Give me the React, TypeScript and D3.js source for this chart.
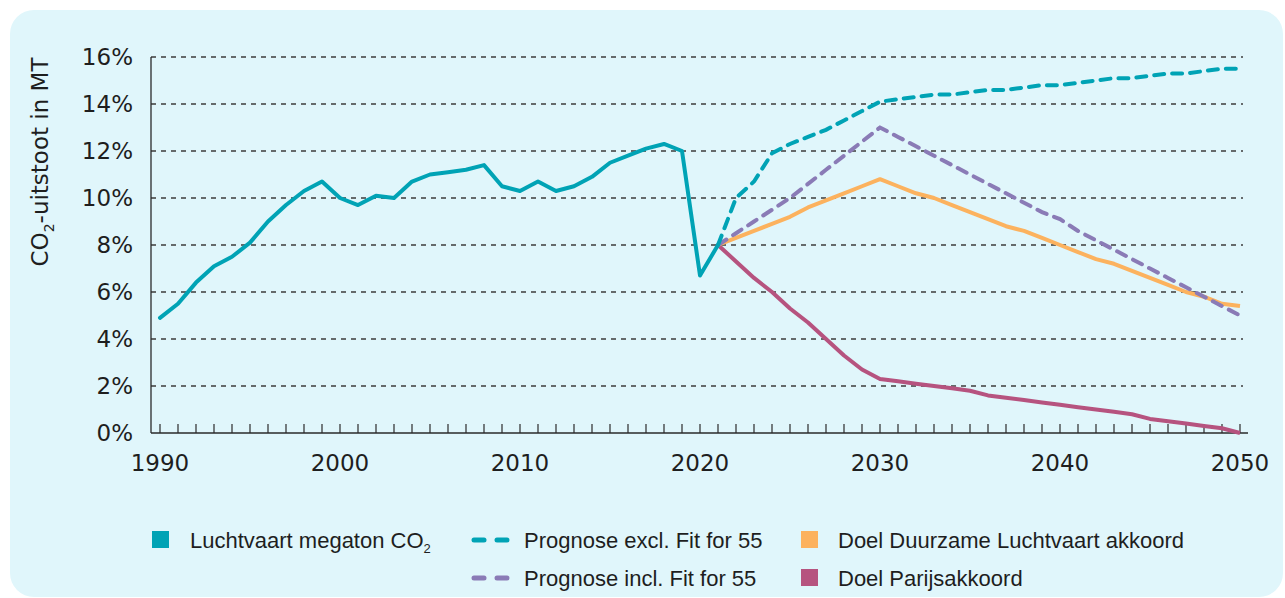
import React from "react";
import * as d3 from "d3";

// historic emissions 1990-2021
const histYears = d3.range(1990, 2022);
const histValues = [
  4.9, 5.5, 6.4, 7.1, 7.5, 8.1, 9.0, 9.7, 10.3, 10.7,
  10.0, 9.7, 10.1, 10.0, 10.7, 11.0, 11.1, 11.2, 11.4, 10.5,
  10.3, 10.7, 10.3, 10.5, 10.9, 11.5, 11.8, 12.1, 12.3, 12.0,
  6.7, 8.0,
];

// projections 2021-2050
const projYears = d3.range(2021, 2051);
const exclValues = [
  8.0, 10.0, 10.7, 11.9, 12.3, 12.6, 12.9, 13.3, 13.7, 14.1,
  14.2, 14.3, 14.4, 14.4, 14.5, 14.6, 14.6, 14.7, 14.8, 14.8,
  14.9, 15.0, 15.1, 15.1, 15.2, 15.3, 15.3, 15.4, 15.5, 15.5,
];
const inclValues = [
  8.0, 8.5, 9.0, 9.5, 10.0, 10.6, 11.2, 11.8, 12.4, 13.0,
  12.6, 12.2, 11.8, 11.4, 11.0, 10.6, 10.2, 9.8, 9.4, 9.1,
  8.6, 8.2, 7.8, 7.4, 7.0, 6.6, 6.2, 5.8, 5.4, 5.0,
];
const duurzaamValues = [
  8.0, 8.3, 8.6, 8.9, 9.2, 9.6, 9.9, 10.2, 10.5, 10.8,
  10.5, 10.2, 10.0, 9.7, 9.4, 9.1, 8.8, 8.6, 8.3, 8.0,
  7.7, 7.4, 7.2, 6.9, 6.6, 6.3, 6.0, 5.8, 5.5, 5.4,
];
const parijsValues = [
  8.0, 7.3, 6.6, 6.0, 5.3, 4.7, 4.0, 3.3, 2.7, 2.3,
  2.2, 2.1, 2.0, 1.9, 1.8, 1.6, 1.5, 1.4, 1.3, 1.2,
  1.1, 1.0, 0.9, 0.8, 0.6, 0.5, 0.4, 0.3, 0.2, 0.0,
];

const yTicks = [0, 2, 4, 6, 8, 10, 12, 14, 16];
const xTickLabels = [1990, 2000, 2010, 2020, 2030, 2040, 2050];

const TEAL = "#00a3b5";
const PURPLE = "#8a7bb6";
const ORANGE = "#fcb25e";
const MAGENTA = "#b6537f";
const TEXT = "#1e1e1e";
const FONT = "'Liberation Sans', Arial, sans-serif";
const AXIS_FONT = "'DejaVu Sans', sans-serif";

const App = () => {
  const width = 1285;
  const height = 598;

  const x = d3.scaleLinear().domain([1990, 2050]).range([160, 1240]);
  const y = d3.scaleLinear().domain([0, 16]).range([433, 57]);

  const line = d3
    .line<[number, number]>()
    .x((d) => x(d[0]))
    .y((d) => y(d[1]));

  const hist = histYears.map((yr, i) => [yr, histValues[i]] as [number, number]);
  const proj = (vals: number[]) =>
    projYears.map((yr, i) => [yr, vals[i]] as [number, number]);

  const left = 151;
  const right = 1243;

  return (
    <svg
      width={width}
      height={height}
      style={{ position: "absolute", left: 0, top: 0 }}
      fontFamily={FONT}
    >
      <rect x={0} y={0} width={width} height={height} fill="#ffffff" />
      <rect x={10} y={10} width={1273} height={587} rx={24} fill="#e0f6fb" />

      {/* grid lines */}
      {yTicks
        .filter((t) => t > 0)
        .map((t) => (
          <line
            key={t}
            x1={left}
            x2={right}
            y1={y(t)}
            y2={y(t)}
            stroke="#3c3c3c"
            strokeWidth={1.3}
            strokeDasharray="5 5"
          />
        ))}

      {/* axes */}
      <line x1={left} x2={left} y1={y(16)} y2={y(0)} stroke="#2a2a2a" strokeWidth={1.3} />
      <line x1={left} x2={1248} y1={y(0)} y2={y(0)} stroke="#2a2a2a" strokeWidth={1.5} />
      {d3.range(1990, 2051).map((yr) => (
        <line
          key={yr}
          x1={x(yr)}
          x2={x(yr)}
          y1={y(0)}
          y2={y(0) - 9}
          stroke="#2a2a2a"
          strokeWidth={1.2}
        />
      ))}

      {/* y tick labels */}
      {yTicks.map((t) => (
        <text
          key={t}
          x={133}
          y={y(t)}
          textAnchor="end"
          dominantBaseline="central"
          fontSize={23}
          fontFamily={AXIS_FONT}
          fill={TEXT}
        >
          {t}%
        </text>
      ))}

      {/* x tick labels */}
      {xTickLabels.map((t) => (
        <text
          key={t}
          x={x(t)}
          y={471}
          textAnchor="middle"
          fontSize={23}
          fontFamily={AXIS_FONT}
          fill={TEXT}
        >
          {t}
        </text>
      ))}

      {/* y axis title */}
      <text
        transform={`translate(48, 162) rotate(-90)`}
        textAnchor="middle"
        fontSize={23}
        fontFamily={AXIS_FONT}
        fill={TEXT}
      >
        CO
        <tspan fontSize={14} dy={6}>2</tspan>
        <tspan dy={-6}>-uitstoot in MT</tspan>
      </text>

      {/* series */}
      <path d={line(proj(parijsValues)) || ""} fill="none" stroke={MAGENTA} strokeWidth={4} strokeLinejoin="round" />
      <path d={line(proj(duurzaamValues)) || ""} fill="none" stroke={ORANGE} strokeWidth={4} strokeLinejoin="round" />
      <path
        d={line(proj(inclValues)) || ""}
        fill="none"
        stroke={PURPLE}
        strokeWidth={4}
        strokeDasharray="10 8"
        strokeLinecap="round"
      />
      <path
        d={line(proj(exclValues)) || ""}
        fill="none"
        stroke={TEAL}
        strokeWidth={4}
        strokeDasharray="10 8"
        strokeLinecap="round"
      />
      <path d={line(hist) || ""} fill="none" stroke={TEAL} strokeWidth={4} strokeLinejoin="round" strokeLinecap="round" />

      {/* legend */}
      <g fontSize={22} fill={TEXT}>
        <rect x={152} y={531} width={17} height={17} fill={TEAL} />
        <text x={190} y={540} dominantBaseline="central">
          Luchtvaart megaton CO
          <tspan fontSize={13} dy={8}>2</tspan>
        </text>

        <line x1={474} x2={484} y1={540} y2={540} stroke={TEAL} strokeWidth={5} strokeLinecap="round" />
        <line x1={497} x2={507} y1={540} y2={540} stroke={TEAL} strokeWidth={5} strokeLinecap="round" />
        <text x={524} y={540} dominantBaseline="central">Prognose excl. Fit for 55</text>

        <line x1={474} x2={484} y1={578} y2={578} stroke={PURPLE} strokeWidth={5} strokeLinecap="round" />
        <line x1={497} x2={507} y1={578} y2={578} stroke={PURPLE} strokeWidth={5} strokeLinecap="round" />
        <text x={524} y={578} dominantBaseline="central">Prognose incl. Fit for 55</text>

        <rect x={801} y={531} width={17} height={17} fill={ORANGE} />
        <text x={838} y={540} dominantBaseline="central">Doel Duurzame Luchtvaart akkoord</text>

        <rect x={801} y={569} width={17} height={17} fill={MAGENTA} />
        <text x={838} y={578} dominantBaseline="central">Doel Parijsakkoord</text>
      </g>
    </svg>
  );
};

export default App;
